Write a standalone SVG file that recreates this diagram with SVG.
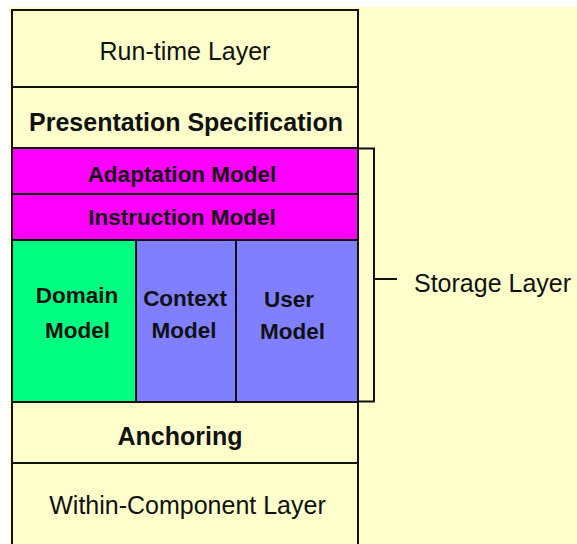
<svg xmlns="http://www.w3.org/2000/svg" width="577" height="544" viewBox="0 0 577 544">
<style>
.box{stroke:#111;stroke-width:2}
.y{fill:#FFFFCC}
.m{fill:#FF00FF}
.g{fill:#00FF80}
.b{fill:#8080FF}
text{font-family:"Liberation Sans",Arial,sans-serif;fill:#111;text-anchor:middle}
.n{font-size:25px}
.bl{font-size:25px;font-weight:bold}
.sm{font-size:22.5px;font-weight:bold}
.conn{fill:none;stroke:#111;stroke-width:2}
</style>
<rect x="0" y="0" width="577" height="544" fill="#FFFFFF"/>
<rect x="9" y="7" width="568" height="537" fill="#FFFFCC"/>
<g id="runtime"><rect class="box y" x="12" y="10" width="346" height="77"/><text class="n" x="185" y="60">Run-time Layer</text></g>
<g id="presentation"><rect class="box y" x="12" y="87" width="346" height="61"/><text class="bl" x="186" y="131">Presentation Specification</text></g>
<g id="adaptation"><rect class="box m" x="12" y="148" width="346" height="46"/><text class="sm" x="182" y="181.5">Adaptation Model</text></g>
<g id="instruction"><rect class="box m" x="12" y="194" width="346" height="46"/><text class="sm" x="182" y="225">Instruction Model</text></g>
<g id="domain"><rect class="box g" x="12" y="240" width="124" height="162"/><text class="sm" x="77" y="303">Domain</text><text class="sm" x="77.5" y="338">Model</text></g>
<g id="context"><rect class="box b" x="136" y="240" width="100" height="162"/><text class="sm" x="185" y="306">Context</text><text class="sm" x="184" y="338">Model</text></g>
<g id="user"><rect class="box b" x="236" y="240" width="122" height="162"/><text class="sm" x="289" y="307">User</text><text class="sm" x="292.5" y="339">Model</text></g>
<g id="anchoring"><rect class="box y" x="12" y="402" width="346" height="61"/><text class="bl" x="180" y="445">Anchoring</text></g>
<g id="within"><rect class="box y" x="12" y="463" width="346" height="90"/><text class="n" x="187.5" y="514">Within-Component Layer</text></g>
<g id="connectors"><path class="conn" d="M358 148.5 H374 V401.5 H358 M374 279 H397"/></g>
<g id="storage"><text class="n" x="414" y="291.5" style="text-anchor:start">Storage Layer</text></g>
</svg>
